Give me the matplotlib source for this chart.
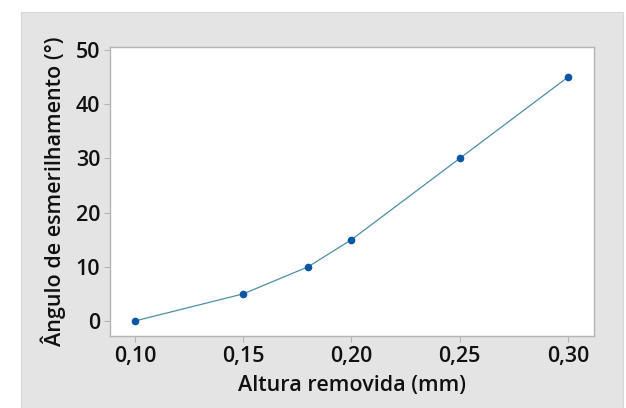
import matplotlib.pyplot as plt
from matplotlib.patches import Rectangle
from matplotlib.ticker import FuncFormatter

# data
altura = [0.10, 0.15, 0.18, 0.20, 0.25, 0.30]
angulo = [0, 5, 10, 15, 30, 45]
x_ticks = [0.10, 0.15, 0.20, 0.25, 0.30]
y_ticks = [0, 10, 20, 30, 40, 50]

plt.rcParams['font.family'] = ['Open Sans', 'DejaVu Sans']

fig = plt.figure(figsize=(6.26, 4.08), dpi=100)
fig.patch.set_facecolor('white')

# gray panel behind the plot
bg = Rectangle((21 / 626, 0), 602 / 626, 396 / 408,
               transform=fig.transFigure, facecolor='#e4e4e4',
               edgecolor='#d6d6d6', linewidth=0.8, zorder=-10)
fig.add_artist(bg)

ax = fig.add_axes([110 / 626, 72 / 408, 484 / 626, 289 / 408])
ax.set_zorder(1)
ax.set_facecolor('white')

ax.plot(altura, angulo, color='#4f8ea3', linewidth=0.9, zorder=2)
ax.plot(altura, angulo, linestyle='none', marker='o', markersize=4.5,
        color='#0b56a4', zorder=3)

ax.set_xlim(0.0885, 0.312)
ax.set_ylim(-2.77, 50.55)
ax.set_xticks(x_ticks)
ax.set_yticks(y_ticks)
ax.xaxis.set_major_formatter(FuncFormatter(lambda v, p: f"{v:.2f}".replace('.', ',')))

for s in ax.spines.values():
    s.set_color('#b4b4b4')
    s.set_linewidth(1.0)

ax.tick_params(axis='both', colors='#b4b4b4', length=4, width=0.8,
               labelcolor='#111111', labelsize=15.5, pad=3)
for lab in ax.get_xticklabels() + ax.get_yticklabels():
    lab.set_fontweight(600)

ax.set_xlabel('Altura removida (mm)', fontsize=15.5, fontweight=600,
              color='#111111', labelpad=6)
ax.set_ylabel('Ângulo de esmerilhamento (°)', fontsize=15.5, fontweight=600,
              color='#111111', labelpad=7)

plt.savefig('out.png', dpi=100)
